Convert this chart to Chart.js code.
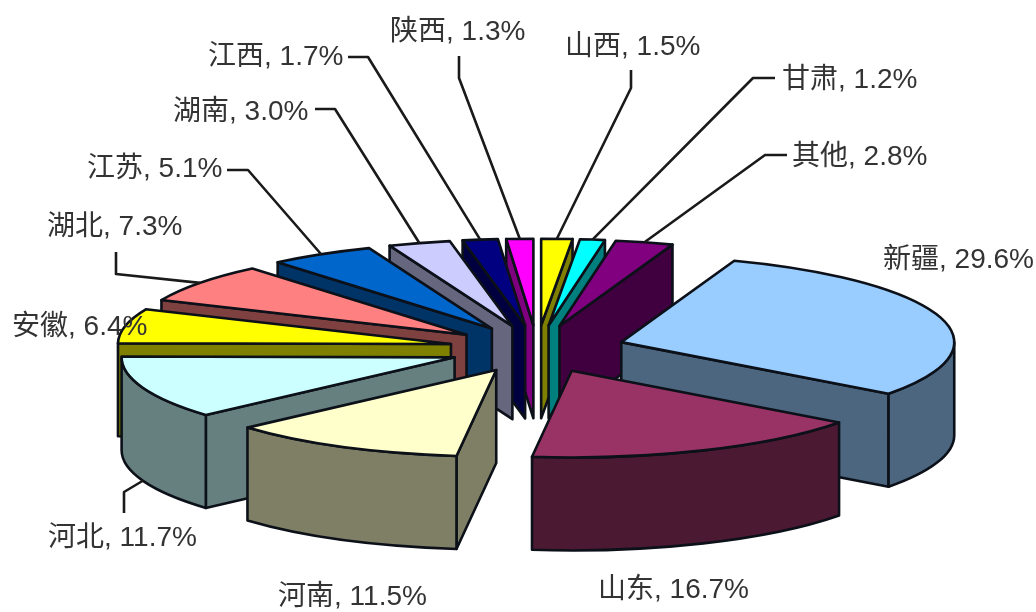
<!DOCTYPE html>
<html><head><meta charset="utf-8">
<script src="https://cdn.jsdelivr.net/npm/chart.js@4"></script>
<style>html,body{margin:0;padding:0;background:#fff}canvas{display:block;filter:blur(0.5px)}</style>
</head><body><canvas id="c" width="1036" height="612"></canvas>
<script>
const categories = ['山西','甘肃','其他','新疆','山东','河南','河北','安徽','湖北','江苏','湖南','江西','陕西'];
const shares = [1.5,1.2,2.8,29.6,16.7,11.5,11.7,6.4,7.3,5.1,3.0,1.7,1.3];
const colors = ['#ffff00','#00ffff','#800080','#99ccff','#993366','#ffffcc','#ccffff','#ffff00','#ff8080','#0066cc','#ccccff','#000080','#ff00ff'];

// Layout only: text anchor [left, middle] per label, and the elbow points of each leader line.
const labelAnchors = [[565,47],[782,80],[792,157],[883,260],[598,590],[278,597],[48,538],[12,327],[47,227],[87,169],[173,112],[208,57],[390,32]];
const leaderElbows = [[[631,70],[631,88]],[[775,78],[753,78]],[[787,155],[765,155]],null,null,null,[[124,513],[124,492]],null,[[116,252],[116,274]],[[227,170],[248,170]],[[315,109],[335,109]],[[348,57],[368,57]],[[459,56],[459,78]]];

const TILT = 0.26, EXPLODE_TILT = 0.27, DEPTH = 93, EXPLODE = 88, RADIUS = 333, EDGE = '#0c1018', EDGE_W = 2.6;

function shade(hex){
  const n = parseInt(hex.slice(1),16);
  return `rgb(${(n>>16&255)*0.5|0},${(n>>8&255)*0.5|0},${(n&255)*0.5|0})`;
}
function geom(arc){
  const mid = (arc.startAngle+arc.endAngle)/2;
  const dx = Math.cos(mid)*EXPLODE, dy = Math.sin(mid)*EXPLODE*EXPLODE_TILT;
  return {mid,dx,dy,cx:arc.x+dx,cy:arc.y+dy,r:arc.outerRadius,a:arc.startAngle,b:arc.endAngle};
}
function pt(g,t,dz){return [g.cx+Math.cos(t)*g.r, g.cy+Math.sin(t)*g.r*TILT+(dz||0)];}

function paint(ctx,fill){
  ctx.fillStyle=fill; ctx.fill();
  ctx.strokeStyle=EDGE; ctx.lineWidth=EDGE_W; ctx.lineJoin='round'; ctx.stroke();
}
function radialWall(ctx,g,t,fill){
  const p=pt(g,t);
  ctx.beginPath();
  ctx.moveTo(g.cx,g.cy);ctx.lineTo(p[0],p[1]);ctx.lineTo(p[0],p[1]+DEPTH);ctx.lineTo(g.cx,g.cy+DEPTH);ctx.closePath();
  paint(ctx,fill);
}
function outerWall(ctx,g,fill){
  const s=Math.max(g.a,0), e=Math.min(g.b,Math.PI);
  if(e<=s) return;
  ctx.beginPath();
  ctx.ellipse(g.cx,g.cy,g.r,g.r*TILT,0,s,e);
  ctx.ellipse(g.cx,g.cy+DEPTH,g.r,g.r*TILT,0,e,s,true);
  ctx.closePath();
  paint(ctx,fill);
}

const pie3d = {
  id:'pie3d',
  beforeDatasetsDraw(chart){
    const ctx=chart.ctx, arcs=chart.getDatasetMeta(0).data;
    const order=arcs.map((arc,i)=>i).sort((i,j)=>Math.sin(geom(arcs[i]).mid)-Math.sin(geom(arcs[j]).mid));
    for(const i of order){
      const arc=arcs[i], g=geom(arc), side=shade(colors[i]);
      // walls: only the faces turned towards the viewer
      if(Math.cos(g.a)<0) radialWall(ctx,g,g.a,side);
      if(Math.cos(g.b)>0) radialWall(ctx,g,g.b,side);
      outerWall(ctx,g,side);
      // top face: the library's own arc element, pulled out from the centre and flattened
      ctx.save();
      ctx.translate(g.dx,g.dy);
      ctx.translate(arc.x,arc.y);ctx.scale(1,TILT);ctx.translate(-arc.x,-arc.y);
      arc.draw(ctx);
      ctx.restore();
      ctx.beginPath();
      ctx.moveTo(g.cx,g.cy);
      ctx.ellipse(g.cx,g.cy,g.r,g.r*TILT,0,g.a,g.b);
      ctx.closePath();
      ctx.strokeStyle=EDGE;ctx.lineWidth=EDGE_W;ctx.lineJoin='round';ctx.stroke();
    }
    return false;
  },
  afterDraw(chart){
    const ctx=chart.ctx, arcs=chart.getDatasetMeta(0).data;
    ctx.save();
    ctx.strokeStyle='#1a1a1a';ctx.lineWidth=2.6;ctx.lineJoin='round';
    arcs.forEach((arc,i)=>{
      const el=leaderElbows[i]; if(!el) return;
      const g=geom(arc), end=pt(g,g.mid,Math.sin(g.mid)>0?DEPTH:0);
      ctx.beginPath();ctx.moveTo(el[0][0],el[0][1]);ctx.lineTo(el[1][0],el[1][1]);ctx.lineTo(end[0],end[1]);ctx.stroke();
    });
    ctx.font='28px "Liberation Sans","Noto Sans CJK SC",sans-serif';
    ctx.fillStyle='#333333';ctx.textBaseline='middle';ctx.textAlign='left';
    categories.forEach((c,i)=>{
      ctx.fillText(`${c}, ${shares[i].toFixed(1)}%`,labelAnchors[i][0],labelAnchors[i][1]);
    });
    ctx.restore();
  }
};

new Chart(document.getElementById('c'),{
  type:'pie',
  data:{labels:categories,datasets:[{data:shares,backgroundColor:colors,borderWidth:0}]},
  options:{
    responsive:false,animation:false,devicePixelRatio:1,radius:RADIUS,
    layout:{padding:{left:38,top:86}},
    plugins:{legend:{display:false},tooltip:{enabled:false}}
  },
  plugins:[pie3d]
});
</script></body></html>
